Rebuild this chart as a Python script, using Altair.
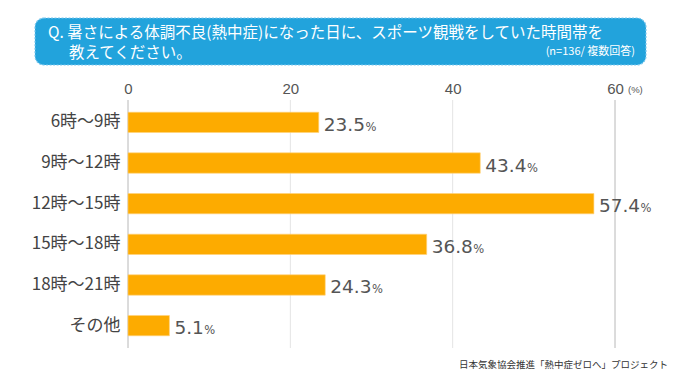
import altair as alt
import pandas as pd

categories = ["6時〜9時", "9時〜12時", "12時〜15時", "15時〜18時", "18時〜21時", "その他"]
values = [23.5, 43.4, 57.4, 36.8, 24.3, 5.1]
tick_values = [0, 20, 40, 60]
title_line1 = "Q. 暑さによる体調不良(熱中症)になった日に、スポーツ観戦をしていた時間帯を"
title_line2 = "教えてください。"
caption = "(n=136/ 複数回答)"
footer = "日本気象協会推進「熱中症ゼロへ」プロジェクト"
unit_label = "(%)"

W, H = 487, 248
PX_PER_UNIT = W / 60.0
CJK = "Noto Sans CJK JP"
NUM = "DejaVu Sans"
NUM_SIZE = 18.5
AX = "Liberation Sans"

labels = [f"{v:.1f}" for v in values]


def num_width(s):
    return sum(0.318 * NUM_SIZE if c == "." else 0.636 * NUM_SIZE for c in s)


df = pd.DataFrame({
    "cat": categories,
    "value": values,
    "label": labels,
    "pct_x": [v + (5 + num_width(s) + 0.5) / PX_PER_UNIT for v, s in zip(values, labels)],
    "pct": ["%"] * len(values),
})

xscale = alt.Scale(domain=[0, 60], nice=False, zero=True)
yscale = alt.Scale(domain=categories, paddingInner=0.5, paddingOuter=0.3)

grid_df = pd.DataFrame({
    "t": tick_values,
    "c": ["#b8b8b8" if t in (0, 60) else "#e4e4e4" for t in tick_values],
})

grid = alt.Chart(grid_df).mark_rule(strokeWidth=1).encode(
    x=alt.X("t:Q", scale=xscale,
            axis=alt.Axis(orient="top", values=tick_values, grid=False, ticks=False,
                          domain=False, title=None, labelFont=AX, labelFontSize=15,
                          labelColor="#555555", labelPadding=4, labelFlush=False)),
    color=alt.Color("c:N", scale=None),
)

bars = alt.Chart(df).mark_bar(color="#fdab00", stroke="#ffd27a", strokeWidth=0.6).encode(
    x=alt.X("value:Q", scale=xscale),
    y=alt.Y("cat:N", scale=yscale, sort=categories,
            axis=alt.Axis(title=None, ticks=False, domain=False, labelFont=CJK,
                          labelFontSize=17, labelColor="#444444", labelPadding=8)),
)

nums = alt.Chart(df).mark_text(align="left", baseline="alphabetic", dx=5, dy=8.5,
                               font=NUM, fontSize=NUM_SIZE,
                               color="#555555").encode(
    x=alt.X("value:Q", scale=xscale),
    y=alt.Y("cat:N", scale=yscale, sort=categories),
    text="label:N",
)

pcts = alt.Chart(df).mark_text(align="left", baseline="alphabetic", dy=8.5,
                               font=NUM, fontSize=11.5,
                               color="#555555").encode(
    x=alt.X("pct_x:Q", scale=xscale),
    y=alt.Y("cat:N", scale=yscale, sort=categories),
    text="pct:N",
)

unit = alt.Chart(pd.DataFrame({"x": [60], "t": [unit_label]})).mark_text(
    align="left", baseline="middle", dx=13, font=AX, fontSize=9.5, color="#555555"
).encode(x=alt.X("x:Q", scale=xscale), y=alt.value(-10), text="t:N")

# Title banner (decoration)
box = alt.Chart(pd.DataFrame({"a": [0]})).mark_rect(
    color="#22a3dc", cornerRadius=9, stroke="#7cc8ee", strokeWidth=1.2, strokeDash=[2, 1.5]
).encode(x=alt.value(-93), x2=alt.value(518), y=alt.value(-82), y2=alt.value(-35))

t1 = alt.Chart(pd.DataFrame({"t": [title_line1]})).mark_text(
    align="left", baseline="middle", font=CJK, fontSize=15.5, color="white"
).encode(x=alt.value(-80), y=alt.value(-67.5), text="t:N")

t2 = alt.Chart(pd.DataFrame({"t": [title_line2]})).mark_text(
    align="left", baseline="middle", font=CJK, fontSize=15.5, color="white"
).encode(x=alt.value(-59), y=alt.value(-47.5), text="t:N")

cap = alt.Chart(pd.DataFrame({"t": [caption]})).mark_text(
    align="right", baseline="middle", font=CJK, fontSize=11, color="white"
).encode(x=alt.value(507), y=alt.value(-48.5), text="t:N")

foot = alt.Chart(pd.DataFrame({"t": [footer]})).mark_text(
    align="right", baseline="middle", font=CJK, fontSize=9.5, color="#333333"
).encode(x=alt.value(540), y=alt.value(265), text="t:N")

chart = alt.layer(grid, bars, nums, pcts, unit, box, t1, t2, cap, foot).properties(
    width=W, height=H,
    autosize=alt.AutoSizeParams(type="none"),
    padding={"left": 120, "top": 92, "right": 57, "bottom": 24},
    background="white",
).configure_view(stroke=None)

chart.save("out.html", embed_options={"renderer": "svg", "actions": False})
